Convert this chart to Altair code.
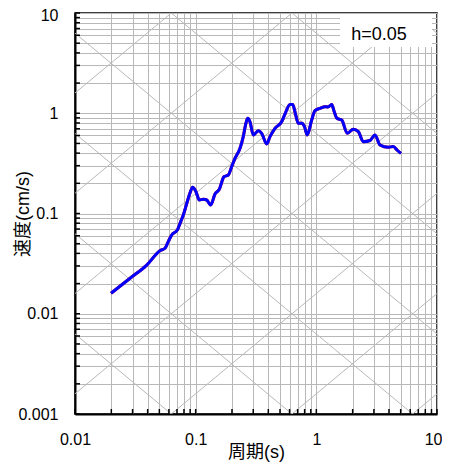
import math
import altair as alt
import pandas as pd

# Spectrum (period s, velocity cm/s)
period = [0.0199, 0.0286, 0.0393, 0.0506, 0.0557, 0.0593, 0.0633, 0.0705, 0.0742, 0.0790,
          0.0852, 0.0897, 0.0945, 0.1006, 0.1072, 0.1157, 0.1234, 0.1332, 0.1446, 0.157,
          0.1717, 0.1864, 0.1988, 0.2118, 0.2331, 0.248, 0.2588, 0.2698, 0.2819, 0.3003,
          0.3304, 0.3525, 0.3879, 0.413, 0.4544, 0.516, 0.550, 0.605, 0.637, 0.665,
          0.709, 0.756, 0.798, 0.841, 0.915, 0.975, 1.072, 1.18, 1.249, 1.341,
          1.401, 1.483, 1.623, 1.806, 2.025, 2.228, 2.45, 2.784, 3.063, 3.37,
          3.95, 4.34, 4.66, 5.03]
velocity = [0.0160, 0.0226, 0.0306, 0.0426, 0.0450, 0.0524, 0.0611, 0.0684, 0.0798, 0.0966,
            0.131, 0.160, 0.1825, 0.165, 0.1364, 0.1385, 0.1364, 0.1216, 0.1565, 0.1743,
            0.2328, 0.242, 0.293, 0.355, 0.447, 0.584, 0.763, 0.890, 0.823, 0.607,
            0.670, 0.631, 0.4935, 0.584, 0.708, 0.823, 0.983, 1.223, 1.223, 1.036,
            0.794, 0.794, 0.734, 0.607, 0.856, 1.065, 1.12, 1.163, 1.154, 1.223,
            1.053, 0.890, 0.856, 0.631, 0.692, 0.655, 0.520, 0.535, 0.607, 0.482,
            0.457, 0.466, 0.43, 0.397]

x_domain = [0.01, 10]
y_domain = [0.001, 10]
x_grid = [round(m * 10 ** k, 6) for k in (-2, -1, 0) for m in range(1, 10)] + [10]
y_grid = [round(m * 10 ** k, 6) for k in (-3, -2, -1, 0) for m in range(1, 10)] + [10]
disp_levels = [10 ** k for k in range(-6, 3)]      # constant displacement (cm)
acc_levels = [10 ** k for k in range(-4, 5)]       # constant acceleration (cm/s2)
label_text = "h=0.05"

FONT = "Liberation Sans, Noto Sans CJK JP, sans-serif"
GRID = "#b8b8b8"
W, H = 362, 401

xs = alt.Scale(type="log", domain=x_domain, nice=False)
ys = alt.Scale(type="log", domain=y_domain, nice=False)

spec_df = pd.DataFrame({"T": period, "V": velocity})

rows = []
for d in disp_levels:
    for t in x_domain:
        rows.append({"id": f"D{d}", "T": t, "V": 2 * math.pi * d / t})
for a in acc_levels:
    for t in x_domain:
        rows.append({"id": f"A{a}", "T": t, "V": a * t / (2 * math.pi)})
diag_df = pd.DataFrame(rows)

lab = "indexof([0.001, 0.01, 0.1, 1, 10], datum.value) >= 0 ? format(datum.value, '~g') : ''"

x_axis = alt.Axis(values=x_grid, labelExpr=lab, grid=True, gridColor=GRID, gridWidth=1,
                  ticks=False, tickSize=0, domainColor="black", domainWidth=2,
                  labelFontSize=16, labelFont=FONT, labelColor="black", labelPadding=17,
                  labelFlush=False, labelOverlap=False,
                  labelAlign={"condition": {"test": "datum.value >= 10", "value": "right"},
                              "value": "center"},
                  labelOffset={"condition": {"test": "datum.value >= 10", "value": 5},
                               "value": 0},
                  title="周期(s)", titleFont=FONT, titleFontSize=18, titleFontWeight="normal",
                  titleColor="black", titleX=W / 2, titleY=38, titleBaseline="middle",
                  titleAlign="center")
y_axis = alt.Axis(values=y_grid, labelExpr=lab, grid=True, gridColor=GRID, gridWidth=1,
                  ticks=False, tickSize=0, domainColor="black", domainWidth=2,
                  labelFontSize=16, labelFont=FONT, labelColor="black", labelPadding=17,
                  labelFlush=False, labelOverlap=False,
                  labelOffset={"condition": {"test": "datum.value >= 10", "value": 2},
                               "value": 0},
                  title="速度(cm/s)", titleFont=FONT, titleFontSize=18, titleFontWeight="normal",
                  titleColor="black", titleX=-52, titleY=H / 2, titleAngle=270,
                  titleBaseline="middle", titleAlign="center")

X = alt.X("T:Q", scale=xs, axis=x_axis)
Y = alt.Y("V:Q", scale=ys, axis=y_axis)

diag = alt.Chart(diag_df).mark_line(clip=True, color=GRID, strokeWidth=1).encode(
    x=X, y=Y, detail="id:N")

red = alt.Chart(spec_df).mark_line(color="red", strokeWidth=3, interpolate="monotone").encode(x=X, y=Y)
blue = alt.Chart(spec_df).mark_line(color="#0000ff", strokeWidth=3, interpolate="monotone").encode(x=X, y=Y)

yt_df = pd.DataFrame({"V": y_grid})
xt_df = pd.DataFrame({"T": x_grid})
yticks = alt.Chart(yt_df).mark_rule(color="black", strokeWidth=1.5).encode(
    y=Y, x=alt.value(0), x2=alt.value(5))
xticks = alt.Chart(xt_df).mark_rule(color="black", strokeWidth=1.5).encode(
    x=X, y=alt.value(H), y2=alt.value(H - 5))

note_df = pd.DataFrame({"label": [label_text]})
box = alt.Chart(note_df).mark_rect(fill="white").encode(
    x=alt.value(265), x2=alt.value(357), y=alt.value(1), y2=alt.value(34))
note = alt.Chart(note_df).mark_text(fontSize=18, font=FONT, color="black",
                                    align="center", baseline="middle").encode(
    text="label:N", x=alt.value(304), y=alt.value(22))

chart = alt.layer(diag, red, blue, yticks, xticks, box, note).properties(
    width=W, height=H,
    autosize=alt.AutoSizeParams(type="none"),
    padding={"left": 67, "top": 5, "right": 5, "bottom": 48},
).configure_view(stroke="black", strokeWidth=1.5)

chart.save("out.html", embed_options={"renderer": "svg", "actions": False})
